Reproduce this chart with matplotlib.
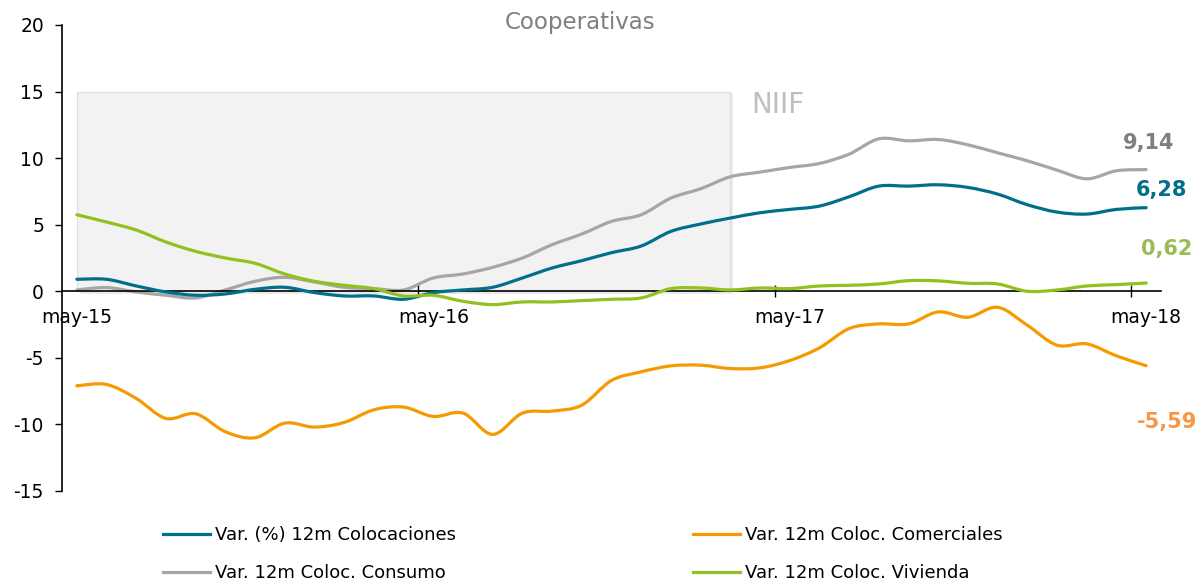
import numpy as np
import matplotlib
matplotlib.use("Agg")
import matplotlib.pyplot as plt
import matplotlib.patheffects as pe
from matplotlib.patches import Rectangle, PathPatch
from matplotlib.path import Path
from matplotlib.lines import Line2D

# Monthly series, may-15 .. may-18 (37 months)
months = ["may-15", "jun-15", "jul-15", "ago-15", "sep-15", "oct-15", "nov-15", "dic-15",
          "ene-16", "feb-16", "mar-16", "abr-16", "may-16", "jun-16", "jul-16", "ago-16",
          "sep-16", "oct-16", "nov-16", "dic-16", "ene-17", "feb-17", "mar-17", "abr-17",
          "may-17", "jun-17", "jul-17", "ago-17", "sep-17", "oct-17", "nov-17", "dic-17",
          "ene-18", "feb-18", "mar-18", "abr-18", "may-18"]

colocaciones = [0.9, 0.9, 0.4, -0.05, -0.3, -0.2, 0.15, 0.3, -0.1, -0.35, -0.35, -0.6,
                -0.1, 0.1, 0.3, 1.0, 1.75, 2.3, 2.9, 3.4, 4.5, 5.05, 5.5, 5.9,
                6.15, 6.4, 7.1, 7.9, 7.9, 8.0, 7.8, 7.3, 6.5, 5.95, 5.8, 6.15, 6.28]

comerciales = [-7.1, -7.0, -8.05, -9.55, -9.2, -10.55, -11.0, -9.9, -10.2, -9.85, -8.9, -8.7,
               -9.4, -9.15, -10.75, -9.15, -9.0, -8.55, -6.7, -6.05, -5.6, -5.55, -5.8, -5.75,
               -5.2, -4.25, -2.8, -2.45, -2.45, -1.55, -1.95, -1.2, -2.55, -4.05, -3.95, -4.85, -5.59]

consumo = [0.1, 0.28, -0.05, -0.3, -0.5, 0.1, 0.75, 1.05, 0.7, 0.3, 0.2, 0.1,
           1.0, 1.3, 1.8, 2.5, 3.5, 4.3, 5.25, 5.75, 7.0, 7.7, 8.6, 8.95,
           9.3, 9.6, 10.3, 11.45, 11.3, 11.4, 11.0, 10.4, 9.8, 9.1, 8.45, 9.05, 9.14]

vivienda = [5.75, 5.2, 4.6, 3.7, 3.0, 2.5, 2.1, 1.3, 0.75, 0.45, 0.2, -0.35,
            -0.3, -0.75, -1.0, -0.8, -0.8, -0.7, -0.6, -0.5, 0.2, 0.25, 0.1, 0.25,
            0.2, 0.4, 0.45, 0.55, 0.8, 0.78, 0.6, 0.55, 0.0, 0.1, 0.4, 0.5, 0.62]

tick_months = ["may-15", "may-16", "may-17", "may-18"]

TEAL = "#00708A"
ORANGE = "#F59A00"
GRAY = "#A6A6A6"
GREEN = "#92C01F"

plt.rcParams["font.family"] = ["DejaVu Sans"]
plt.rcParams["axes.unicode_minus"] = False


def smooth_line(ax, xs, ys, color, lw, z):
    # excel-style smoothed line: bezier segments through the data points
    xs = np.asarray(xs, float)
    ys = np.asarray(ys, float)
    t = 1.0 / 6.0
    verts = [(xs[0], ys[0])]
    codes = [Path.MOVETO]
    n = len(xs)
    for i in range(n - 1):
        i0 = max(i - 1, 0)
        i3 = min(i + 2, n - 1)
        c1 = (xs[i] + (xs[i + 1] - xs[i0]) * t, ys[i] + (ys[i + 1] - ys[i0]) * t)
        c2 = (xs[i + 1] - (xs[i3] - xs[i]) * t, ys[i + 1] - (ys[i3] - ys[i]) * t)
        verts += [c1, c2, (xs[i + 1], ys[i + 1])]
        codes += [Path.CURVE4] * 3
    patch = PathPatch(Path(verts, codes), facecolor="none", edgecolor=color, lw=lw,
                      capstyle="round", joinstyle="round", zorder=z)
    ax.add_patch(patch)
    return Line2D([], [], color=color, lw=lw)


fig = plt.figure(figsize=(11.98, 5.83), dpi=100)
ax = fig.add_axes([62 / 1198, 92 / 583, (1161 - 62) / 1198, (558 - 92) / 583])

x = np.arange(len(months))

# NIIF shaded window (from first point to mar-17), zero to 15
box = Rectangle((0, 0), months.index("mar-17"), 15, facecolor="#F2F2F2",
                edgecolor="#DDDDDD", linewidth=0.8, zorder=1)
box.set_path_effects([pe.SimplePatchShadow(offset=(2, -2), shadow_rgbFace="#999999", alpha=0.2),
                      pe.Normal()])
ax.add_patch(box)
ax.text(months.index("mar-17") + 0.7, 14.0, "NIIF", color="#BFBFBF", fontsize=20,
        ha="left", va="center", zorder=2)

lw = 2.3
h1 = smooth_line(ax, x, colocaciones, TEAL, lw, 4)
h2 = smooth_line(ax, x, comerciales, ORANGE, lw, 4)
h3 = smooth_line(ax, x, consumo, GRAY, lw, 3)
h4 = smooth_line(ax, x, vivienda, GREEN, lw, 5)

# last-value labels
ax.text(36.1, 11.1, f"{consumo[-1]:.2f}".replace(".", ","), color="#7F7F7F", fontsize=15,
        fontweight="bold", ha="center", va="center")
ax.text(36.5, 7.6, f"{colocaciones[-1]:.2f}".replace(".", ","), color=TEAL, fontsize=15,
        fontweight="bold", ha="center", va="center")
ax.text(36.7, 3.2, f"{vivienda[-1]:.2f}".replace(".", ","), color="#9BBB59", fontsize=15,
        fontweight="bold", ha="center", va="center")
ax.text(36.7, -9.8, f"{comerciales[-1]:.2f}".replace(".", ","), color="#F79646", fontsize=15,
        fontweight="bold", ha="center", va="center")

ax.set_xlim(-0.5, len(months) - 0.5)
ax.set_ylim(-15, 20)
ax.set_yticks([-15, -10, -5, 0, 5, 10, 15, 20])
ax.tick_params(axis="y", length=5, width=1, pad=8, labelsize=13.5, direction="out")

# x axis crossing at zero, tick marks between categories, labels centred on may
ax.spines["bottom"].set_position(("data", 0))
ax.spines["top"].set_visible(False)
ax.spines["right"].set_visible(False)
ax.spines["left"].set_linewidth(1.2)
ax.spines["bottom"].set_linewidth(1.2)
ax.spines["bottom"].set_zorder(3.5)
label_pos = [months.index(m) for m in tick_months]
ax.set_xticks([p - 0.5 for p in label_pos[1:]])
ax.set_xticklabels([])
ax.tick_params(axis="x", which="major", direction="inout", length=8, width=1)
ax.set_xticks(label_pos, minor=True)
ax.set_xticklabels(tick_months, minor=True)
ax.tick_params(axis="x", which="minor", length=0, pad=12, labelsize=13.5)

fig.text(580 / 1198, 1 - 22 / 583, "Cooperativas", color="#7F7F7F", fontsize=16.5,
         ha="center", va="center")

fig.legend([h1, h3, h2, h4],
           ["Var. (%) 12m Colocaciones", "Var. 12m Coloc. Consumo",
            "Var. 12m Coloc. Comerciales", "Var. 12m Coloc. Vivienda"],
           ncol=2, loc="center left", bbox_to_anchor=(163 / 1198, 29 / 583),
           frameon=False, fontsize=13, handlelength=2.6, handletextpad=0.3,
           columnspacing=13.1, labelspacing=1.1, borderpad=0, borderaxespad=0)

fig.savefig("out.png", dpi=100)
